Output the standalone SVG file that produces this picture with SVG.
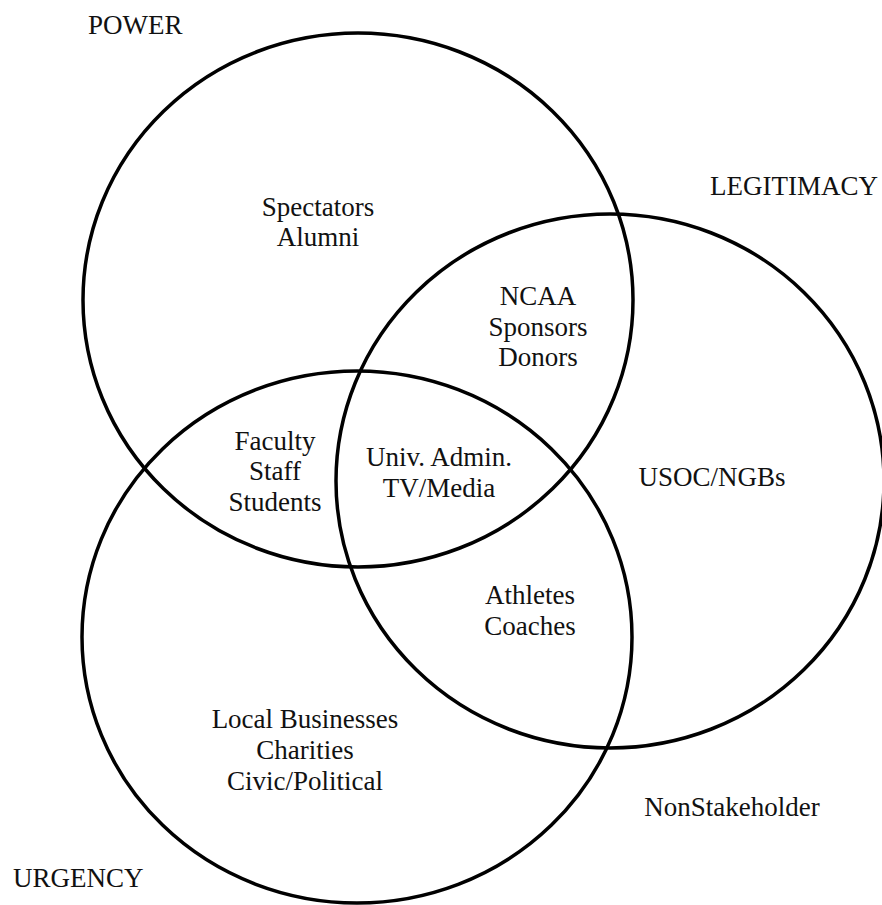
<svg xmlns="http://www.w3.org/2000/svg" width="882" height="905" viewBox="0 0 882 905">
  <style>
    .ring { fill: none; stroke: #000; stroke-width: 3.5; }
    .lbl { font-family: "Liberation Serif", "Times New Roman", serif; font-size: 27px; fill: #111; }
    .mid { text-anchor: middle; }
  </style>
  <rect width="882" height="905" fill="#fff"/>

  <!-- three attribute sets -->
  <g id="connectors"></g>
  <g id="power">
    <ellipse class="ring" cx="358" cy="300" rx="275" ry="267"/>
    <text class="lbl" x="88" y="34">POWER</text>
  </g>
  <g id="legitimacy">
    <ellipse class="ring" cx="610" cy="481" rx="274" ry="267"/>
    <text class="lbl" x="710" y="195">LEGITIMACY</text>
  </g>
  <g id="urgency">
    <ellipse class="ring" cx="357" cy="637" rx="275" ry="266"/>
    <text class="lbl" x="13" y="887">URGENCY</text>
  </g>

  <!-- stakeholder groups by region -->
  <g id="power-only" class="lbl mid">
    <text x="318" y="216">Spectators</text>
    <text x="318" y="246">Alumni</text>
  </g>
  <g id="power-legitimacy" class="lbl mid">
    <text x="538" y="305">NCAA</text>
    <text x="538" y="336">Sponsors</text>
    <text x="538" y="366">Donors</text>
  </g>
  <g id="power-urgency" class="lbl mid">
    <text x="275" y="450">Faculty</text>
    <text x="275" y="480">Staff</text>
    <text x="275" y="511">Students</text>
  </g>
  <g id="all-three" class="lbl mid">
    <text x="439" y="466">Univ. Admin.</text>
    <text x="439" y="497">TV/Media</text>
  </g>
  <g id="legitimacy-only" class="lbl mid">
    <text x="712" y="486">USOC/NGBs</text>
  </g>
  <g id="legitimacy-urgency" class="lbl mid">
    <text x="530" y="604">Athletes</text>
    <text x="530" y="635">Coaches</text>
  </g>
  <g id="urgency-only" class="lbl mid">
    <text x="305" y="728">Local Businesses</text>
    <text x="305" y="759">Charities</text>
    <text x="305" y="790">Civic/Political</text>
  </g>
  <g id="nonstakeholder" class="lbl mid">
    <text x="732" y="816">NonStakeholder</text>
  </g>
</svg>
